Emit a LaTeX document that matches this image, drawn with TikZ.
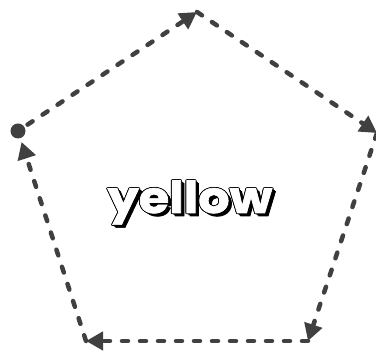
\documentclass[tikz,border=0pt]{standalone}
\usepackage{fontspec}
\newfontfamily\labelfont{Poppins}[UprightFont=* Bold, FakeBold=1.5]
\usetikzlibrary{arrows.meta}

% white letters, thin black rim and a shadow to the lower right
\newcommand\textcopy[3]{\rlap{\kern#1\raisebox{#2}{#3}}}
\newcommand\shadowtext[1]{{\color{black}%
  \textcopy{3pt}{-3pt}{#1}\textcopy{2pt}{-2pt}{#1}\textcopy{1pt}{-1pt}{#1}%
  \textcopy{-0.8pt}{0pt}{#1}\textcopy{0.8pt}{0pt}{#1}%
  \textcopy{0pt}{0.8pt}{#1}\textcopy{0pt}{-0.8pt}{#1}%
  \textcopy{-0.6pt}{0.6pt}{#1}\textcopy{0.6pt}{0.6pt}{#1}%
  \textcopy{-0.6pt}{-0.6pt}{#1}\textcopy{0.6pt}{-0.6pt}{#1}}%
  \color{white}#1}

\definecolor{edgegray}{HTML}{404040}

\begin{document}
\begin{tikzpicture}[
    x=1pt, y=-1pt,
    edge/.style={
      draw=edgegray,
      line width=4.5pt,
      line cap=round,
      dash pattern=on 6pt off 12pt
    },
    startdot/.style={
      circle,
      fill=edgegray,
      minimum size=15pt,
      inner sep=0pt,
      outer sep=4pt
    },
    >={Triangle[length=17pt,width=18pt]}
  ]
    \useasboundingbox (0,0) rectangle (376,352);

    \node[startdot] (left) at (18,131) {};
    \coordinate (top) at (197,12);
    \coordinate (right) at (377,133);
    \coordinate (lowright) at (308,341);
    \coordinate (lowleft) at (86,341);

    \draw[edge, ->] (left) -- (top);
    \draw[edge, ->] (top) -- (right);
    \draw[edge, ->] (right) -- (lowright);
    \draw[edge, ->] (lowright) -- (lowleft);
    \draw[edge, ->] (lowleft) -- (left);

    \node[anchor=base, xscale=1.12, transform shape, inner sep=0pt] (word) at (190,213)
      {\labelfont\fontsize{44}{44}\selectfont\shadowtext{yellow}};
  \end{tikzpicture}
\end{document}
